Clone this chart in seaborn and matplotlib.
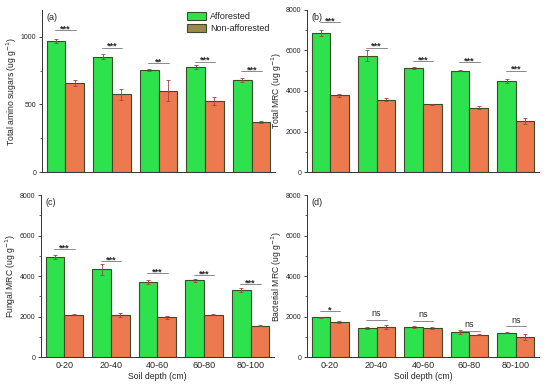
import matplotlib.pyplot as plt
import matplotlib.patches as mpatches
import seaborn as sns
import pandas as pd

depths = ["0-20", "20-40", "40-60", "60-80", "80-100"]
sites = ["Afforested", "Non-afforested"]

amino_aff = [970, 855, 755, 775, 678]
amino_non = [660, 576, 603, 526, 373]
amino_aff_err = [15, 20, 5, 15, 15]
amino_non_err = [25, 40, 75, 30, 8]
amino_sig = ["***", "***", "**", "***", "***"]
amino_line = [1050, 920, 805, 817, 748]

total_aff = [6870, 5750, 5150, 5000, 4500]
total_non = [3780, 3570, 3340, 3180, 2500]
total_aff_err = [150, 250, 50, 30, 100]
total_non_err = [60, 80, 40, 80, 150]
total_sig = ["***", "***", "***", "***", "***"]
total_line = [7410, 6140, 5470, 5430, 5000]

fungal_aff = [4940, 4330, 3690, 3790, 3310]
fungal_non = [2090, 2080, 1960, 2080, 1550]
fungal_aff_err = [120, 280, 100, 80, 100]
fungal_non_err = [30, 80, 60, 30, 40]
fungal_sig = ["***", "***", "***", "***", "***"]
fungal_line = [5330, 4740, 4150, 4050, 3600]

bact_aff = [1960, 1430, 1480, 1220, 1210]
bact_non = [1730, 1500, 1420, 1100, 990]
bact_aff_err = [30, 50, 30, 100, 30]
bact_non_err = [30, 100, 50, 30, 130]
bact_sig = ["*", "ns", "ns", "ns", "ns"]
bact_line = [2260, 1830, 1800, 1300, 1520]

green = "#2ee24e"
orange = "#ec7a4e"
edge = "#3e4a2c"

panels = [
    ("(a)", "Total amino sugars (ug g$^{-1}$)", amino_aff, amino_non, amino_aff_err, amino_non_err,
     amino_sig, amino_line, 1200, 500, [0.0764, 0.5544, 0.4236, 0.4197]),
    ("(b)", "Total MRC (ug g$^{-1}$)", total_aff, total_non, total_aff_err, total_non_err,
     total_sig, total_line, 8000, 2000, [0.558, 0.5544, 0.422, 0.4197]),
    ("(c)", "Fungal MRC (ug g$^{-1}$)", fungal_aff, fungal_non, fungal_aff_err, fungal_non_err,
     fungal_sig, fungal_line, 8000, 2000, [0.0745, 0.0751, 0.4236, 0.4197]),
    ("(d)", "Bacterial MRC (ug g$^{-1}$)", bact_aff, bact_non, bact_aff_err, bact_non_err,
     bact_sig, bact_line, 8000, 2000, [0.558, 0.0751, 0.422, 0.4197]),
]

sns.set_style("ticks")
plt.rcParams["font.family"] = ["Liberation Sans", "DejaVu Sans"]

fig = plt.figure(figsize=(5.5, 3.86), dpi=100)

for i, (tag, ylab, aff, non, aff_err, non_err, sig, line, ymax, major, rect) in enumerate(panels):
    ax = fig.add_axes(rect)
    df = pd.DataFrame({
        "depth": depths * 2,
        "site": [sites[0]] * 5 + [sites[1]] * 5,
        "value": aff + non,
    })
    sns.barplot(data=df, x="depth", y="value", hue="site", order=depths, hue_order=sites,
                palette=[green, orange], width=0.8, errorbar=None, edgecolor=edge,
                linewidth=0.8, saturation=1, ax=ax, legend=False)
    # error bars
    for cont, errs in zip(ax.containers, [aff_err, non_err]):
        xs = [b.get_x() + b.get_width() / 2 for b in cont]
        ys = [b.get_height() for b in cont]
        ax.errorbar(xs, ys, yerr=errs, fmt="none", ecolor="#a04040", elinewidth=0.6,
                    capsize=1.5, capthick=0.6)
    # significance marks
    for j in range(5):
        ax.plot([j - 0.22, j + 0.22], [line[j], line[j]], color="#777777", lw=0.6)
        if sig[j] == "ns":
            ax.text(j, line[j] + ymax * 0.01, "ns", ha="center", va="bottom", fontsize=6.5)
        else:
            ax.text(j, line[j] - ymax * 0.02, sig[j], ha="center", va="bottom", fontsize=6.5,
                    fontweight="bold")
    ax.set_xlim(-0.5, 4.5)
    ax.set_ylim(0, ymax)
    ax.set_yticks(range(0, ymax + 1, major))
    ax.set_yticks(range(major // 2, ymax, major), minor=True)
    ax.tick_params(axis="y", labelsize=5, length=2.5, width=0.6, pad=1.5)
    ax.tick_params(axis="y", which="minor", length=1.5, width=0.5)
    ax.tick_params(axis="x", length=0, labelsize=6.5, pad=3)
    ax.set_ylabel(ylab, fontsize=6.2, labelpad=1.5)
    sns.despine(ax=ax)
    for s in ["left", "bottom"]:
        ax.spines[s].set_linewidth(0.7)
        ax.spines[s].set_color("#333333")
    ax.text(0.02, 0.98, tag, transform=ax.transAxes, ha="left", va="top", fontsize=6.5)
    if i < 2:
        ax.set_xticklabels([])
        ax.set_xlabel("")
    else:
        ax.set_xlabel("Soil depth (cm)", fontsize=6.2, labelpad=1)
    if i == 0:
        handles = [mpatches.Patch(facecolor=green, edgecolor=edge, lw=0.8),
                   mpatches.Patch(facecolor="#9c8a4c", edgecolor=edge, lw=0.8)]
        ax.legend(handles, sites, loc="upper right", bbox_to_anchor=(1.0, 1.02), frameon=False,
                  fontsize=6.5, handlelength=2.2, handleheight=1.0, labelspacing=0.3,
                  handletextpad=0.4, borderaxespad=0.2)

fig.savefig("out.png", dpi=100)
